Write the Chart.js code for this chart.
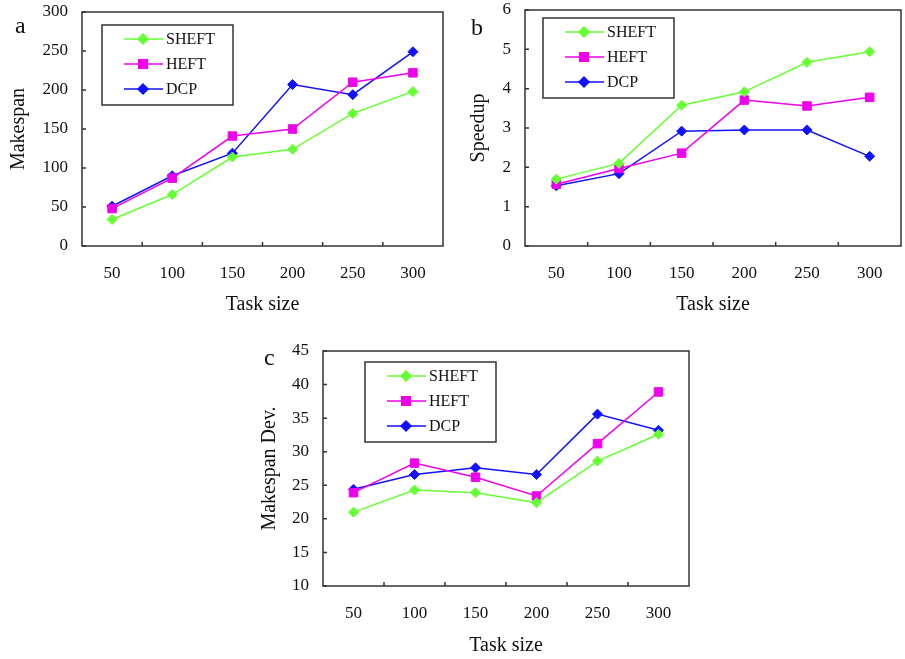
<!DOCTYPE html>
<html>
<head>
<meta charset="utf-8">
<script src="https://cdn.jsdelivr.net/npm/chart.js@4.4.1/dist/chart.umd.min.js"></script>
<style>
    body { margin: 0; background: #fff; width: 905px; height: 659px; position: relative; overflow: hidden; }
    canvas { position: absolute; }
</style>
</head>
<body>
<canvas id="chart-a" width="450" height="320" style="left:0;top:0"></canvas>
<canvas id="chart-b" width="455" height="320" style="left:450px;top:0"></canvas>
<canvas id="chart-c" width="450" height="329" style="left:240px;top:330px"></canvas>
<script>
// Data
const taskSizes = ['50', '100', '150', '200', '250', '300'];
const seriesNames = ['SHEFT', 'HEFT', 'DCP'];

const makespanSheft = [34, 66, 114, 124, 170, 198];
const makespanHeft = [48, 87, 141, 150, 210, 222];
const makespanDcp = [51, 90, 119, 207, 194, 249];

const speedupSheft = [1.70, 2.10, 3.58, 3.92, 4.67, 4.94];
const speedupHeft = [1.57, 1.97, 2.36, 3.71, 3.56, 3.78];
const speedupDcp = [1.53, 1.84, 2.92, 2.95, 2.95, 2.28];

const devSheft = [21.0, 24.3, 23.9, 22.4, 28.6, 32.6];
const devHeft = [23.9, 28.3, 26.2, 23.4, 31.2, 38.9];
const devDcp = [24.4, 26.6, 27.6, 26.6, 35.6, 33.2];

const colors = ['#66ff33', '#ee00ee', '#1111ff'];
const markers = ['rectRot', 'rect', 'rectRot'];
const markerSize = [5, 6, 5];

const serif = '"Liberation Serif", "Times New Roman", serif';

// Frame, inward ticks, boxed legend and panel letter
const frameDecor = {
    id: 'frameDecor',
    beforeDatasetsDraw(chart) {
        const ctx = chart.ctx;
        const area = chart.chartArea;
        const xs = chart.scales.x;
        const ys = chart.scales.y;
        ctx.save();
        ctx.strokeStyle = '#333';
        ctx.lineWidth = 1.5;
        ctx.strokeRect(area.left, area.top, area.right - area.left, area.bottom - area.top);
        ctx.beginPath();
        ys.ticks.forEach(t => {
            const py = ys.getPixelForValue(t.value);
            ctx.moveTo(area.left, py);
            ctx.lineTo(area.left + 4, py);
        });
        for (let i = 1; i < xs.ticks.length; i++) {
            const px = (xs.getPixelForValue(i - 1) + xs.getPixelForValue(i)) / 2;
            ctx.moveTo(px, area.bottom);
            ctx.lineTo(px, area.bottom - 4);
        }
        ctx.stroke();
        ctx.restore();
    },
    afterDatasetsDraw(chart, args, opts) {
        const ctx = chart.ctx;
        const [bx, by] = opts.box;
        ctx.save();
        ctx.fillStyle = '#fff';
        ctx.fillRect(bx, by, 131, 80);
        ctx.strokeStyle = '#333';
        ctx.lineWidth = 1.5;
        ctx.strokeRect(bx, by, 131, 80);
        chart.data.datasets.forEach((ds, i) => {
            const ry = by + 14 + i * 25;
            ctx.strokeStyle = ds.borderColor;
            ctx.lineWidth = 1.5;
            ctx.beginPath();
            ctx.moveTo(bx + 22, ry);
            ctx.lineTo(bx + 61, ry);
            ctx.stroke();
            ctx.fillStyle = ds.borderColor;
            Chart.helpers.drawPoint(ctx, {
                pointStyle: ds.pointStyle,
                radius: ds.pointRadius,
                rotation: 0,
                borderWidth: 1
            }, bx + 41, ry);
            ctx.fillStyle = '#111';
            ctx.font = '16px ' + serif;
            ctx.textBaseline = 'middle';
            ctx.fillText(ds.label, bx + 64, ry + 1);
        });
        ctx.fillStyle = '#111';
        ctx.font = '24px ' + serif;
        ctx.textBaseline = 'alphabetic';
        ctx.fillText(opts.letter, opts.letterAt[0], opts.letterAt[1]);
        ctx.restore();
    }
};

function buildDatasets(values) {
    return values.map((vals, i) => ({
        label: seriesNames[i],
        data: vals,
        borderColor: colors[i],
        backgroundColor: colors[i],
        borderWidth: 1.5,
        pointStyle: markers[i],
        pointRadius: markerSize[i],
        pointBorderWidth: 1,
        tension: 0
    }));
}

function makeChart(id, cfg) {
    const canvas = document.getElementById(id);
    return new Chart(canvas, {
        type: 'line',
        data: {
            labels: taskSizes,
            datasets: buildDatasets(cfg.values)
        },
        options: {
            responsive: false,
            animation: false,
            layout: {
                autoPadding: false,
                padding: { left: 0, top: cfg.area.top, right: canvas.width - cfg.area.right, bottom: 0 }
            },
            plugins: {
                legend: { display: false },
                tooltip: { enabled: false },
                frameDecor: { box: cfg.legendBox, letter: cfg.letter, letterAt: cfg.letterAt }
            },
            scales: {
                x: {
                    type: 'category',
                    offset: true,
                    grid: { display: false, drawTicks: false },
                    border: { display: false },
                    ticks: { color: '#111', font: { family: serif, size: 17 }, padding: 17, maxRotation: 0 },
                    title: { display: true, text: 'Task size', color: '#111', font: { family: serif, size: 20 }, padding: { top: 0, bottom: cfg.xTitlePad } },
                    afterFit(scale) {
                        scale.height = canvas.height - cfg.area.bottom;
                        scale.paddingLeft = 0;
                        scale.paddingRight = 0;
                    }
                },
                y: {
                    min: cfg.yMin,
                    max: cfg.yMax,
                    grid: { display: false, drawTicks: false },
                    border: { display: false },
                    ticks: { stepSize: cfg.yStep, color: '#111', font: { family: serif, size: 17 }, padding: 14 },
                    title: { display: true, text: cfg.yTitle, color: '#111', font: { family: serif, size: 20 }, padding: { top: cfg.yTitlePad, bottom: 0 } },
                    afterFit(scale) {
                        scale.width = cfg.area.left;
                        scale.paddingTop = 0;
                        scale.paddingBottom = 0;
                    }
                }
            }
        },
        plugins: [frameDecor]
    });
}

makeChart('chart-a', {
    values: [makespanSheft, makespanHeft, makespanDcp],
    yMin: 0, yMax: 300, yStep: 50, yTitle: 'Makespan',
    area: { left: 82, top: 12, right: 443, bottom: 246 },
    legendBox: [102, 25], letter: 'a', letterAt: [15, 33],
    xTitlePad: 3, yTitlePad: 7
});

makeChart('chart-b', {
    values: [speedupSheft, speedupHeft, speedupDcp],
    yMin: 0, yMax: 6, yStep: 1, yTitle: 'Speedup',
    area: { left: 75, top: 10, right: 451, bottom: 246 },
    legendBox: [93, 18], letter: 'b', letterAt: [21, 35],
    xTitlePad: 3, yTitlePad: 17
});

makeChart('chart-c', {
    values: [devSheft, devHeft, devDcp],
    yMin: 10, yMax: 45, yStep: 5, yTitle: 'Makespan Dev.',
    area: { left: 83, top: 21, right: 449, bottom: 256 },
    legendBox: [125, 32], letter: 'c', letterAt: [24, 35],
    xTitlePad: 1, yTitlePad: 18
});
</script>
</body>
</html>
